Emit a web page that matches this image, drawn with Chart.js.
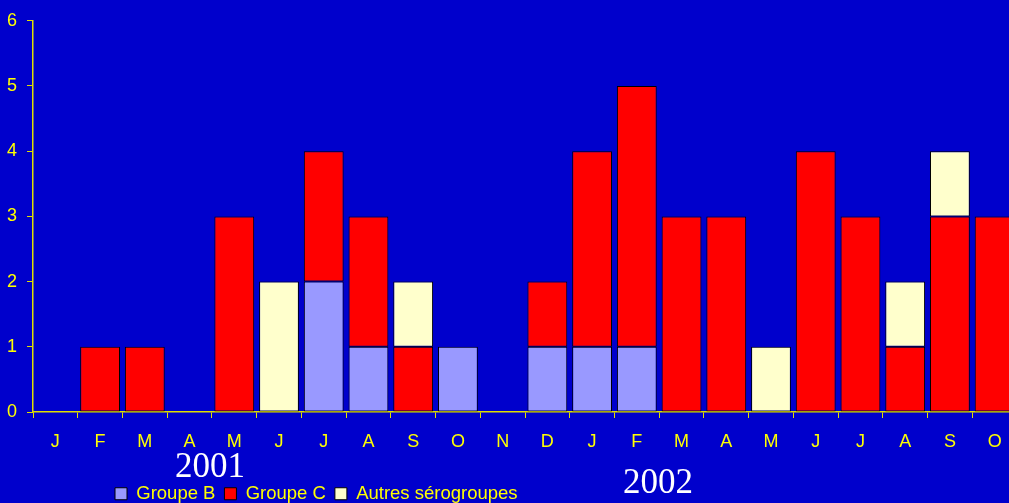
<!DOCTYPE html>
<html>
<head>
<meta charset="utf-8">
<script src="https://cdn.jsdelivr.net/npm/chart.js@4"></script>
<style>
  html, body { margin: 0; padding: 0; background: #0000cc; overflow: hidden; }
  canvas { display: block; }
</style>
</head>
<body>
<canvas id="chart" width="1017" height="503"></canvas>
<script>
const months = ['J', 'F', 'M', 'A', 'M', 'J', 'J', 'A', 'S', 'O', 'N', 'D',
  'J', 'F', 'M', 'A', 'M', 'J', 'J', 'A', 'S', 'O'];
const groupeB = [0, 0, 0, 0, 0, 0, 2, 1, 0, 1, 0, 1, 1, 1, 0, 0, 0, 0, 0, 0, 0, 0];
const groupeC = [0, 1, 1, 0, 3, 0, 2, 2, 1, 0, 0, 1, 3, 4, 3, 3, 0, 4, 3, 1, 3, 3];
const autres = [0, 0, 0, 0, 0, 2, 0, 0, 1, 0, 0, 0, 0, 0, 0, 0, 1, 0, 0, 1, 1, 0];
const years = [
  { text: '2001', x: 210, y: 477 },
  { text: '2002', x: 658, y: 493 },
];

const yellow = '#ffff00';
const axisYellow = '#e0e000';
const font = '"Liberation Sans", Arial, sans-serif';

// blue backdrop + year captions under the axis
const decor = {
  id: 'decor',
  beforeDraw(chart) {
    const ctx = chart.ctx;
    ctx.save();
    ctx.fillStyle = '#0000cc';
    ctx.fillRect(0, 0, chart.width, chart.height);
    ctx.restore();
  },
  afterLayout(chart) {
    // legend sits left of centre and a bit lower in the original
    const lg = chart.legend;
    if (lg) {
      lg.left = 106;
      lg.top += 10;
      lg.bottom += 10;
    }
  },
  afterDraw(chart) {
    const ctx = chart.ctx;
    ctx.save();
    ctx.fillStyle = '#ffffff';
    ctx.font = '35px "Liberation Serif", "Times New Roman", serif';
    ctx.textAlign = 'center';
    ctx.textBaseline = 'alphabetic';
    years.forEach((y) => ctx.fillText(y.text, y.x, y.y));
    ctx.restore();
  },
};

const barStyle = {
  borderColor: '#000000',
  borderWidth: 1,
  borderSkipped: false,
  barPercentage: 0.89,
  categoryPercentage: 1.0,
};

new Chart(document.getElementById('chart'), {
  type: 'bar',
  data: {
    labels: months,
    datasets: [
      Object.assign({ label: 'Groupe B', data: groupeB, backgroundColor: '#9999ff' }, barStyle),
      Object.assign({ label: 'Groupe C', data: groupeC, backgroundColor: '#ff0000' }, barStyle),
      Object.assign({ label: 'Autres sérogroupes', data: autres, backgroundColor: '#ffffcc' }, barStyle),
    ],
  },
  options: {
    responsive: false,
    animation: false,
    devicePixelRatio: 1,
    layout: {
      padding: { top: 19, right: 0, bottom: 0, left: 0 },
    },
    scales: {
      x: {
        stacked: true,
        border: { display: true, color: axisYellow, width: 1.5 },
        grid: {
          display: true,
          drawOnChartArea: false,
          drawTicks: true,
          tickLength: 6,
          color: axisYellow,
          lineWidth: 1,
        },
        ticks: {
          color: yellow,
          font: { family: font, size: 18 },
          padding: 13,
          autoSkip: false,
          maxRotation: 0,
        },
        afterFit: (scale) => {
          const lg = scale.chart.legend;
          scale.height = 503 - 412 - (lg ? lg.height : 0);
        },
      },
      y: {
        stacked: true,
        min: 0,
        max: 6,
        border: { display: true, color: axisYellow, width: 1.5 },
        grid: {
          display: true,
          drawOnChartArea: false,
          drawTicks: true,
          tickLength: 6,
          color: axisYellow,
        },
        ticks: {
          stepSize: 1,
          color: yellow,
          font: { family: font, size: 18 },
          padding: 10,
        },
        afterFit: (scale) => {
          scale.width = 33;
        },
      },
    },
    plugins: {
      tooltip: { enabled: false },
      legend: {
        position: 'bottom',
        align: 'start',
        labels: {
          color: yellow,
          font: { family: font, size: 18.5 },
          boxWidth: 12,
          boxHeight: 12,
          padding: 9,
        },
      },
    },
  },
  plugins: [decor],
});
</script>
</body>
</html>
